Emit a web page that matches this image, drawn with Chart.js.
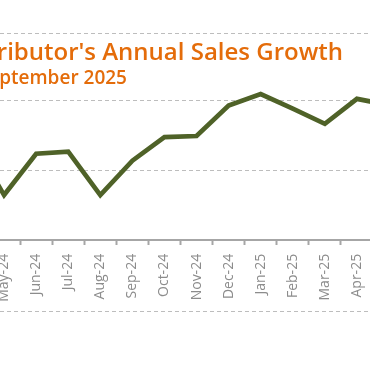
<!DOCTYPE html>
<html>
<head>
<meta charset="utf-8">
<script src="https://cdn.jsdelivr.net/npm/chart.js@4/dist/chart.umd.min.js"></script>
<style>
  html, body { margin: 0; padding: 0; width: 370px; height: 370px; overflow: hidden; background: #fff; }
  #wrap { position: absolute; left: -50px; top: 0; width: 470px; height: 370px; }
  #wrap canvas { display: block; }
  .ttl { position: absolute; white-space: nowrap; color: #E46C0A; font-family: "Open Sans", sans-serif; font-weight: 600; line-height: 1; }
  #title { right: 27px; top: 39px; font-size: 24px; }
  #subtitle { right: 243px; top: 68px; font-size: 19px; }
  #topFrame { position: absolute; left: 0; top: 33px; width: 370px; height: 1px; z-index: 5;
              background: repeating-linear-gradient(to right, #BDBDBD 0 4px, transparent 4px 7px); }
</style>
</head>
<body>
<div id="wrap"><canvas id="salesChart" width="470" height="370"></canvas></div>
<div id="topFrame"></div>
<div id="title" class="ttl">Distributor's Annual Sales Growth</div>
<div id="subtitle" class="ttl">October 2023 - September 2025</div>
<script>
// Aylar ve büyüme (%) değerleri
const months = ['Apr-24', 'May-24', 'Jun-24', 'Jul-24', 'Aug-24', 'Sep-24', 'Oct-24',
                'Nov-24', 'Dec-24', 'Jan-25', 'Feb-25', 'Mar-25', 'Apr-25', 'May-25'];
const salesGrowth = [14.4, 6.45, 12.4, 12.7, 6.45, 11.4, 14.8, 14.95, 19.35, 21.0, 18.9, 16.7, 20.3, 19.4];
// Yatay kılavuz çizgileri (%)
const gridValues = [0, 10, 20];
const yMin = -10.17;
const yMax = 29.74;

const gridColor = '#BDBDBD';
const gridDash = [4, 3];

// Grafik alanının alt kesikli çerçevesi
const framePlugin = {
    id: 'frameLines',
    afterDraw(chart) {
        const { ctx, chartArea } = chart;
        ctx.save();
        ctx.strokeStyle = gridColor;
        ctx.lineWidth = 1;
        ctx.setLineDash(gridDash);
        const py = Math.round(chartArea.bottom) + 0.5;
        ctx.beginPath();
        ctx.moveTo(chartArea.left, py);
        ctx.lineTo(chartArea.right, py);
        ctx.stroke();
        ctx.restore();
    }
};

const ctx = document.getElementById('salesChart');
const salesChart = new Chart(ctx, {
    type: 'line',
    data: {
        labels: months,
        datasets: [{
            label: 'Sales Growth',
            data: salesGrowth,
            borderColor: '#4F6228',
            borderWidth: 4.7,
            pointRadius: 0,
            tension: 0,
            fill: false
        }]
    },
    options: {
        responsive: false,
        animation: false,
        layout: { padding: { left: 22, right: 31, top: 33.3, bottom: 59.5 } },
        plugins: { legend: { display: false }, tooltip: { enabled: false } },
        scales: {
            x: {
                position: { y: 0 },
                offset: false,
                grid: {
                    offset: true,
                    drawOnChartArea: false,
                    drawTicks: true,
                    tickLength: 4,
                    tickColor: '#A6A6A6',
                    tickWidth: 2
                },
                border: { display: true, color: '#A6A6A6', width: 2 },
                ticks: {
                    autoSkip: false,
                    minRotation: 90,
                    maxRotation: 90,
                    padding: 10,
                    color: '#8C8C8C',
                    font: { family: 'Open Sans', size: 14 }
                }
            },
            y: {
                min: yMin,
                max: yMax,
                ticks: { display: false },
                afterBuildTicks: axis => {
                    axis.ticks = gridValues.map(v => ({ value: v }));
                },
                grid: { color: gridColor, lineWidth: 1, drawTicks: false },
                border: { display: false, dash: gridDash }
            }
        }
    },
    plugins: [framePlugin]
});
</script>
</body>
</html>
